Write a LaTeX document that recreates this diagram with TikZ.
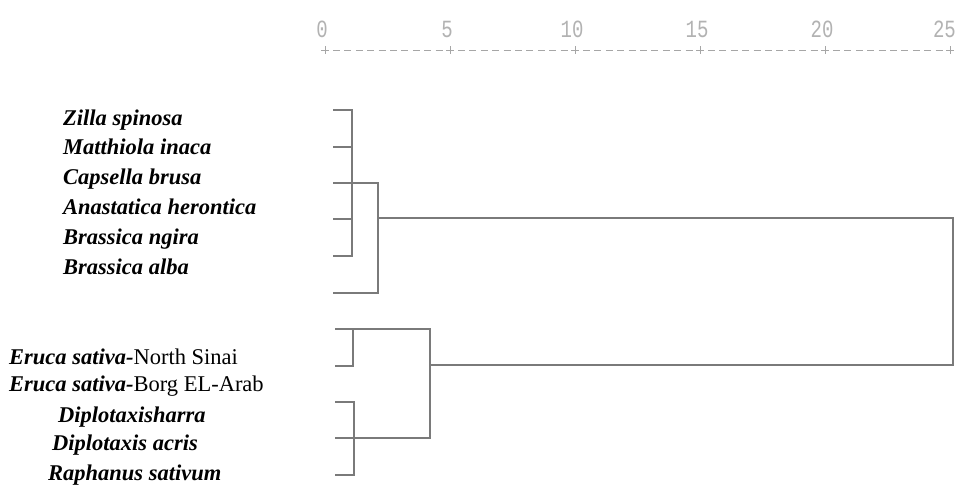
\documentclass[tikz,border=0pt]{standalone}
\usepackage{fontspec}
\setmainfont{Liberation Serif}
\newfontfamily\axisfont{Liberation Mono}
\begin{document}
\begin{tikzpicture}[x=1pt,y=-1pt,
  tree/.style={draw=black!52,line width=1.6pt,line cap=rect},
  axisline/.style={draw=black!35,line width=1pt},
  taxon/.style={anchor=base west,inner sep=0pt,font=\fontsize{22.5}{26}\selectfont},
  scalelabel/.style={font=\axisfont\fontsize{19}{21}\selectfont,text=black!30,inner sep=0pt,yscale=1.3}]
\useasboundingbox (0,0) rectangle (958,491);

% rescaled distance axis
\foreach \v in {0,5,...,25}{
  \draw[axisline] ({325+25*\v-4},50) -- ({325+25*\v+4},50)
                  ({325+25*\v},46) -- ({325+25*\v},54);
}
\foreach \v in {0,5,...,20}{
  \node[scalelabel] (lab\v) at ({322+25*\v},29) {\v};
  \draw[axisline,dash pattern=on 7pt off 4.4pt] ({325+25*\v+8},50) -- ({325+25*\v+119},50);
}
\node[scalelabel,anchor=east] (lab25) at (956,29) {25};

% taxa
\node[taxon] (t1) at (63,125) {\textbf{\textit{Zilla spinosa}}};
\node[taxon] (t2) at (63,154) {\textbf{\textit{Matthiola inaca}}};
\node[taxon] (t3) at (63,184) {\textbf{\textit{Capsella brusa}}};
\node[taxon] (t4) at (63,214) {\textbf{\textit{Anastatica herontica}}};
\node[taxon] (t5) at (63,244) {\textbf{\textit{Brassica ngira}}};
\node[taxon] (t6) at (63,274) {\textbf{\textit{Brassica alba}}};
\node[taxon] (t7) at (9,364) {\textbf{\textit{Eruca sativa-}}North Sinai};
\node[taxon] (t8) at (9,391) {\textbf{\textit{Eruca sativa-}}Borg EL-Arab};
\node[taxon] (t9) at (58,422) {\textbf{\textit{Diplotaxisharra}}};
\node[taxon] (t10) at (52,450) {\textbf{\textit{Diplotaxis acris}}};
\node[taxon] (t11) at (48,480) {\textbf{\textit{Raphanus sativum}}};

% leaf ends
\coordinate (l1) at (334,110);
\coordinate (l2) at (334,147);
\coordinate (l3) at (334,183);
\coordinate (l4) at (334,219);
\coordinate (l5) at (334,256);
\coordinate (l6) at (334,293);
\coordinate (l7) at (336,329);
\coordinate (l8) at (336,366);
\coordinate (l9) at (336,402);
\coordinate (l10) at (336,438);
\coordinate (l11) at (336,475);

% merge points
\coordinate (a) at (352,110);
\coordinate (b) at (378,218);
\coordinate (c) at (353,329);
\coordinate (d) at (354,402);
\coordinate (e) at (430,365);
\coordinate (root) at (953,218);

% first group
\draw[tree] (l1) -- (a) -- (352,256);
\draw[tree] (l2) -- (352,147);
\draw[tree] (l4) -- (352,219);
\draw[tree] (l5) -- (352,256);
\draw[tree] (l3) -- (378,183) -- (378,293) -- (l6);
\draw[tree] (b) -- (root);

% second group
\draw[tree] (l7) -- (430,329) -- (430,438) -- (l10);
\draw[tree] (c) -- (353,366) -- (l8);
\draw[tree] (l9) -- (d) -- (354,475) -- (l11);
\draw[tree] (e) -- (953,365) -- (root);
\end{tikzpicture}
\end{document}
